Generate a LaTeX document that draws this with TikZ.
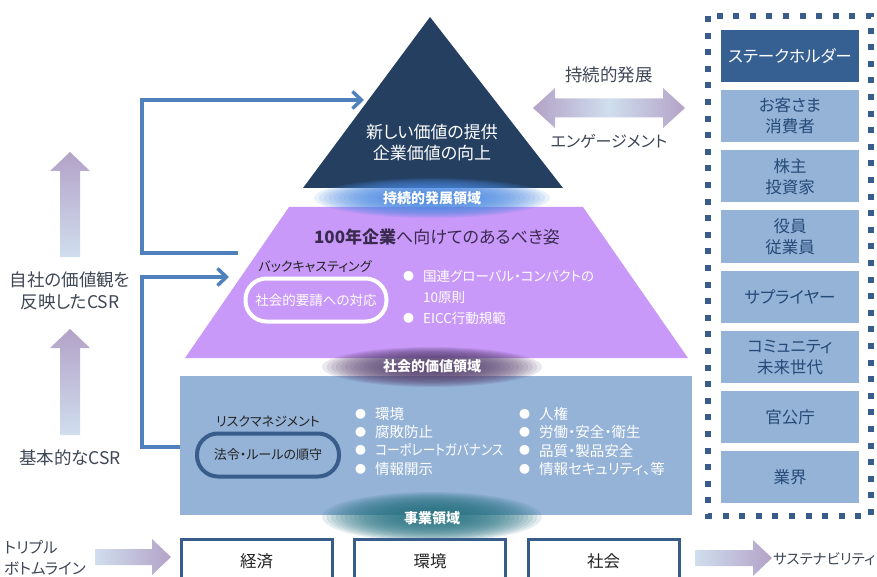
\documentclass[tikz,border=0pt]{standalone}
\usepackage{fontspec}
\setmainfont{Noto Sans CJK JP}[RawFeature=+palt]
\usetikzlibrary{arrows.meta}
\definecolor{navy}{HTML}{243F60}
\definecolor{purp}{HTML}{C999F9}
\definecolor{lblue}{HTML}{95B3D7}
\definecolor{hdr}{HTML}{366092}
\definecolor{frm}{HTML}{385D8A}
\definecolor{conn}{HTML}{4F81BD}
\definecolor{sktext}{HTML}{254A78}
\definecolor{grayA}{HTML}{3E4756}
\definecolor{arrP}{HTML}{B3A2C7}
\definecolor{arrL}{HTML}{D0DEEE}
\definecolor{glowB}{HTML}{4A88E0}
\definecolor{glowP}{HTML}{56406E}
\definecolor{glowT}{HTML}{2A7483}
\definecolor{ptitle}{HTML}{3B2A50}
\definecolor{darkT}{HTML}{222222}
\newcommand\fsz[2]{\fontsize{#1}{#2}\selectfont}
\newcommand\bl{\makebox[20pt][l]{\raisebox{1.2pt}{\fontsize{11}{11}\selectfont ●}}}
\newcommand\glowell[4]{\foreach \k in {1,...,24}{\fill[#1, opacity=0.12] #2 ellipse ({#3*\k/24} and {#4*\k/24});}}
\begin{document}
\begin{tikzpicture}[x=1pt,y=-1pt,
  lbl/.style={inner sep=0pt, align=center},
  shbox/.style={minimum width=138pt, minimum height=52pt, inner sep=0pt, fill=lblue, text=sktext, align=center, font=\fsz{16.5}{21}},
  botbox/.style={draw=frm, line width=3pt, fill=white, minimum width=151pt, minimum height=44pt, inner sep=0pt, font=\fsz{16.5}{20}, text=darkT},
  glowtxt/.style={inner sep=0pt, text=white, font=\fsz{14}{16}\bfseries},
  connector/.style={draw=conn, line width=3.5pt, -{Straight Barb[length=9pt,width=17pt]}},
  bul/.style={inner sep=0pt, align=left, text=white, anchor=north west}
  ]
\useasboundingbox (0,0) rectangle (877,577);
\clip (0,0) rectangle (877,577);

% main shapes
\fill[navy] (430,17) -- (563,188) -- (303,188) -- cycle;
\fill[purp] (289,207) -- (583,207) -- (688,358) -- (185,358) -- cycle;
\fill[lblue] (180,376) rectangle (692,515);

% glows
\glowell{glowB}{(432,198)}{118}{20}
\glowell{glowP}{(432,367)}{110}{20}
\glowell{glowT}{(432,517)}{110}{25}
\node[glowtxt] (g1) at (432,198) {持続的発展領域};
\node[glowtxt] (g2) at (432,366) {社会的価値領域};
\node[glowtxt] (g3) at (432,518) {事業領域};

% triangle text
\node[lbl, text=white, font=\fsz{17}{21}] (tri) at (432,143) {新しい価値の提供\\企業価値の向上};

% engagement arrow
\shade[left color=arrP, right color=arrP, middle color=arrL]
  (533,108) -- (555,88) -- (555,98.5) -- (663,98.5) -- (663,88) -- (685,108)
  -- (663,128) -- (663,117.5) -- (555,117.5) -- (555,128) -- cycle;
\node[lbl, text=grayA, font=\fsz{17.5}{20}] (sus) at (609,75) {持続的発展};
\node[lbl, text=grayA, font=\fsz{16}{20}] (eng) at (609,141) {エンゲージメント};

% purple area
\node[lbl, text=ptitle, font=\fsz{17}{20}] (ptl) at (437,237) {{\bfseries 100年企業}へ向けてのあるべき姿};
\node[lbl, text=darkT, font=\fsz{13}{16}] (back) at (315,267) {バックキャスティング};
\node[draw=white, line width=4pt, rounded corners=21pt, minimum width=141pt, minimum height=43pt, inner sep=0pt, text=white, font=\fsz{13.5}{16}] (req) at (316,300) {社会的要請への対応};
\node[bul, font=\fsz{13.5}{21}] (pb) at (403,270) {\bl 国連グローバル・コンパクトの\\\makebox[20pt][l]{}10原則\\\bl EICC行動規範};

% blue area
\node[lbl, text=darkT, font=\fsz{13}{16}] (risk) at (268,422) {リスクマネジメント};
\node[draw=frm, line width=4pt, rounded corners=21pt, minimum width=142pt, minimum height=43pt, inner sep=0pt, text=darkT, font=\fsz{13}{16}] (law) at (268,455) {法令・ルールの順守};
\node[bul, font=\fsz{14.5}{18.3}] (c1) at (355,407) {\bl 環境\\\bl 腐敗防止\\\bl \scalebox{0.87}[1]{コーポレートガバナンス}\\\bl 情報開示};
\node[bul, font=\fsz{14.5}{18.3}] (c2) at (519,407) {\bl 人権\\\bl 労働・安全・衛生\\\bl 品質・製品安全\\\bl 情報セキュリティ、等};

% bottom boxes
\node[botbox, anchor=north] (b1) at (256.5,538) {経済};
\node[botbox, anchor=north] (b2) at (430,538) {環境};
\node[botbox, anchor=north] (b3) at (603.5,538) {社会};

% bottom arrows
\shade[left color=arrL, right color=arrP] (95,549) -- (152,549) -- (152,539) -- (171,557) -- (152,575) -- (152,565) -- (95,565) -- cycle;
\shade[left color=arrL, right color=arrP] (695,550) -- (753,550) -- (753,540) -- (772,558) -- (753,576) -- (753,566) -- (695,566) -- cycle;
\node[lbl, align=left, anchor=west, text=grayA, font=\fsz{15.5}{21}] (tbl) at (4,558) {トリプル\\ボトムライン};
\node[lbl, anchor=west, text=grayA, font=\fsz{14.5}{20}] (sust) at (773,559) {サステナビリティ};

% left up arrows
\shade[top color=arrP, bottom color=arrL] (70,152) -- (90,171) -- (80,171) -- (80,257) -- (60,257) -- (60,171) -- (50,171) -- cycle;
\shade[top color=arrP, bottom color=arrL] (70,329) -- (90,348) -- (80,348) -- (80,435) -- (60,435) -- (60,348) -- (50,348) -- cycle;
\node[lbl, text=grayA, font=\fsz{17.5}{22}] (own) at (70,291) {自社の価値観を\\反映したCSR};
\node[lbl, text=grayA, font=\fsz{17.5}{22}] (basic) at (70,458) {基本的なCSR};

% connectors
\coordinate (c1s) at (238,253);
\coordinate (c1a) at (142,253);
\coordinate (c1b) at (142,100);
\coordinate (c1e) at (364,100);
\draw[connector] (c1s) -- (c1a) -- (c1b) -- (c1e);
\coordinate (c2s) at (180,447);
\coordinate (c2a) at (142,447);
\coordinate (c2b) at (142,277);
\coordinate (c2e) at (229,277);
\draw[connector] (c2s) -- (c2a) -- (c2b) -- (c2e);

% stakeholders
\draw[frm, line width=6pt, dash pattern=on 6pt off 10.6pt] (708,16) rectangle (871,516);
\node[shbox, fill=hdr, text=white] (s0) at (790,56) {ステークホルダー};
\node[shbox] (s1) at (790,116) {お客さま\\消費者};
\node[shbox] (s2) at (790,176.5) {株主\\投資家};
\node[shbox] (s3) at (790,236.5) {役員\\従業員};
\node[shbox] (s4) at (790,297) {サプライヤー};
\node[shbox] (s5) at (790,357) {コミュニティ\\未来世代};
\node[shbox] (s6) at (790,417) {官公庁};
\node[shbox] (s7) at (790,477) {業界};
\end{tikzpicture}
\end{document}
